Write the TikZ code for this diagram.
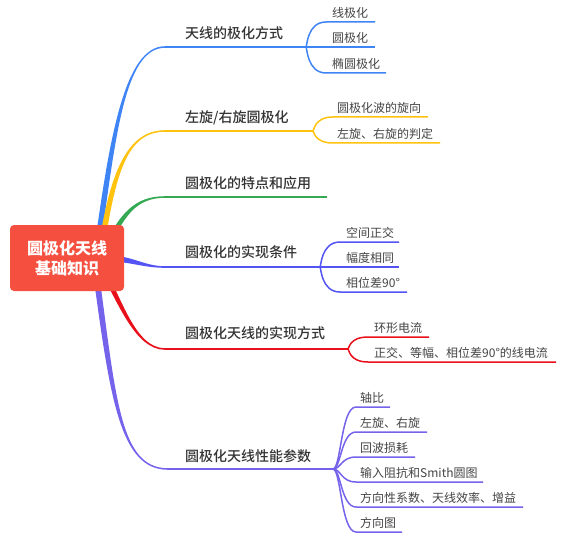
\documentclass[tikz,border=0pt]{standalone}
\usepackage{fontspec}
\setmainfont{Noto Sans CJK SC}
\newfontfamily\medfont{Noto Sans CJK SC Medium}
\usetikzlibrary{calc}
\definecolor{cblue}{HTML}{3F84F5}
\definecolor{cyellow}{HTML}{FFC20E}
\definecolor{cgreen}{HTML}{34A853}
\definecolor{cviolet}{HTML}{5454F5}
\definecolor{cred}{HTML}{E8101A}
\definecolor{cpurple}{HTML}{7563EC}
\definecolor{croot}{HTML}{F5503F}
\definecolor{ctext}{HTML}{333333}
\definecolor{ckid}{HTML}{444444}
% tapered main connector: color, start, ctrl1, ctrl2, end, start half-offset, end half-offset
\newcommand\taper[7]{\fill[#1] ($(#2)+(#6)$) .. controls ($(#3)+(#6)$) and ($(#4)+(#7)$) .. ($(#5)+(#7)$) -- ($(#5)-(#7)$) .. controls ($(#4)-(#7)$) and ($(#3)-(#6)$) .. ($(#2)-(#6)$) -- cycle;}
\tikzset{
  mainline/.style={line width=1.6pt},
  kidline/.style={line width=1.5pt},
  mainlabel/.style={anchor=base west, inner sep=0pt, font=\fontsize{14}{16}\selectfont\medfont, text=ctext},
  kid/.style={anchor=base west, inner sep=0pt, font=\fontsize{12}{14}\selectfont, text=ckid},
  rootbox/.style={fill=croot, rounded corners=4pt, minimum width=114pt, minimum height=66pt, inner sep=0pt,
    align=center, text=white, font=\fontsize{16}{20}\selectfont\bfseries}
}
\begin{document}
\begin{tikzpicture}[x=1pt,y=-1pt]
\useasboundingbox (0,0) rectangle (569,540);
% root points (hidden behind the centre node)
\coordinate (r1) at (96,258);
\coordinate (r2) at (100,258);
\coordinate (r3) at (105,250);
\coordinate (r4) at (110,258);
\coordinate (r5) at (100,265);
\coordinate (r6) at (95,265);
% control points
\coordinate (p1a) at (112,140); \coordinate (p1b) at (124,47);
\coordinate (p2a) at (112,170); \coordinate (p2b) at (128,131);
\coordinate (p3a) at (122,215); \coordinate (p3b) at (135,197);
\coordinate (p4a) at (135,260); \coordinate (p4b) at (145,267);
\coordinate (p5a) at (120,300); \coordinate (p5b) at (135,349);
\coordinate (p6a) at (113,400); \coordinate (p6b) at (120,469);
% branch line starts and forks
\coordinate (b1) at (165,47);  \coordinate (f1) at (306,47);
\coordinate (b2) at (165,131); \coordinate (f2) at (313,131);
\coordinate (b3) at (165,197); \coordinate (f3) at (327,197);
\coordinate (b4) at (165,267); \coordinate (f4) at (320,267);
\coordinate (b5) at (165,349); \coordinate (f5) at (348,349);
\coordinate (b6) at (168,469); \coordinate (f6) at (333,469);

\taper{cblue}{r1}{p1a}{p1b}{b1}{3,0}{0,0.8}
\taper{cyellow}{r2}{p2a}{p2b}{b2}{3,0}{0,0.8}
\taper{cgreen}{r3}{p3a}{p3b}{b3}{2,2}{0,0.8}
\taper{cviolet}{r4}{p4a}{p4b}{b4}{0,3}{0,0.8}
\taper{cred}{r5}{p5a}{p5b}{b5}{2,-2}{0,-0.8}
\taper{cpurple}{r6}{p6a}{p6b}{b6}{3,0}{0,-0.8}

\draw[cblue, mainline] (b1) -- (f1);
\draw[cyellow, mainline] (b2) -- (f2);
\draw[cgreen, mainline] (b3) -- (f3);
\draw[cviolet, mainline] (b4) -- (f4);
\draw[cred, mainline] (b5) -- (f5);
\draw[cpurple, mainline] (b6) -- (f6);

\node[rootbox] (c) at (67,258) {圆极化天线\\基础知识};

\node[mainlabel] (m1) at (185,38.5) {天线的极化方式};
\node[mainlabel] (m2) at (185,122.5) {左旋/右旋圆极化};
\node[mainlabel] (m3) at (185,188.5) {圆极化的特点和应用};
\node[mainlabel] (m4) at (185,257.5) {圆极化的实现条件};
\node[mainlabel] (m5) at (185,338.5) {圆极化天线的实现方式};
\node[mainlabel] (m6) at (185,461.5) {圆极化天线性能参数};

% branch 1 children
\foreach \n/\y/\e/\t in {a/22/375/线极化, b/47/375/圆极化, c/73/386/椭圆极化}{
  \coordinate (k1\n) at (326,\y);
  \coordinate (e1\n) at (\e,\y);
  \draw[cblue, kidline] (f1) .. controls ($(f1)+(1,0)$) and ($(f1|-k1\n)+(1,0)$) .. (k1\n) -- (e1\n);
  \node[kid] (t1\n) at (332,\y-4.5) {\t};
}
% branch 2 children
\foreach \n/\y/\e/\t in {a/117/428/圆极化波的旋向, b/143/440/左旋、右旋的判定}{
  \coordinate (k2\n) at (333,\y);
  \coordinate (e2\n) at (\e,\y);
  \draw[cyellow, kidline] (f2) .. controls ($(f2)+(1,0)$) and ($(f2|-k2\n)+(1,0)$) .. (k2\n) -- (e2\n);
  \node[kid] (t2\n) at (337,\y-4.5) {\t};
}
% branch 4 children
\foreach \n/\y/\e/\t in {a/242/399/空间正交, b/267/399/幅度相同, c/292/407/相位差90°}{
  \coordinate (k4\n) at (340,\y);
  \coordinate (e4\n) at (\e,\y);
  \draw[cviolet, kidline] (f4) .. controls ($(f4)+(1,0)$) and ($(f4|-k4\n)+(1,0)$) .. (k4\n) -- (e4\n);
  \node[kid] (t4\n) at (346,\y-4.5) {\t};
}
% branch 5 children
\foreach \n/\y/\e/\t in {a/337/429/环形电流, b/362/556/正交、等幅、相位差90°的线电流}{
  \coordinate (k5\n) at (368,\y);
  \coordinate (e5\n) at (\e,\y);
  \draw[cred, kidline] (f5) .. controls ($(f5)+(1,0)$) and ($(f5|-k5\n)+(1,0)$) .. (k5\n) -- (e5\n);
  \node[kid] (t5\n) at (374,\y-4.5) {\t};
}
% branch 6 children
\foreach \n/\y/\e/\t in {a/407/390/轴比, b/432/427/左旋、右旋, c/457/415/回波损耗, d/482/483/输入阻抗和Smith圆图, e/507/523/方向性系数、天线效率、增益, f/532/402/方向图}{
  \coordinate (k6\n) at (356,\y);
  \coordinate (e6\n) at (\e,\y);
  \draw[cpurple, kidline] (f6) .. controls ($(f6)+(8,0)$) and ($(f6|-k6\n)+(8,0)$) .. (k6\n) -- (e6\n);
  \node[kid] (t6\n) at (360,\y-4.5) {\t};
}
\end{tikzpicture}
\end{document}
